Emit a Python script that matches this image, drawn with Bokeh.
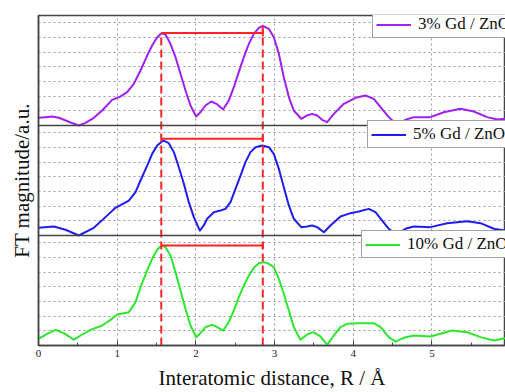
from bokeh.plotting import figure
from bokeh.models import Range1d, FixedTicker, SingleIntervalTicker, Legend, LegendItem, Span, Label
from bokeh.embed import file_html
from bokeh.resources import INLINE

# ---- data (R in Angstrom, FT magnitude in panel-normalised a.u.) ----
r_3 = [0.000, 0.089, 0.174, 0.258, 0.322, 0.407, 0.512, 0.597, 0.703, 0.809, 0.936, 1.042, 1.127, 1.211,
       1.296, 1.381, 1.444, 1.508, 1.563, 1.614, 1.677, 1.741, 1.804, 1.868, 1.931, 2.003, 2.058, 2.122,
       2.194, 2.262, 2.346, 2.418, 2.482, 2.545, 2.609, 2.673, 2.736, 2.800, 2.850, 2.927, 2.990,
       3.054, 3.117, 3.181, 3.244, 3.338, 3.414, 3.477, 3.541, 3.604, 3.668, 3.753, 3.880, 4.028, 4.155,
       4.261, 4.346, 4.451, 4.557, 4.663, 4.769, 4.981, 5.150, 5.362, 5.532, 5.701, 5.828, 5.934]
ft_3 = [0.070, 0.076, 0.082, 0.070, 0.052, 0.027, 0.000, 0.024, 0.070, 0.136, 0.233, 0.264, 0.303, 0.379,
        0.500, 0.636, 0.727, 0.803, 0.839, 0.827, 0.742, 0.621, 0.470, 0.318, 0.182, 0.082, 0.121, 0.182,
        0.218, 0.197, 0.145, 0.227, 0.348, 0.485, 0.621, 0.742, 0.833, 0.888, 0.906, 0.879, 0.803,
        0.652, 0.439, 0.258, 0.136, 0.061, 0.091, 0.106, 0.091, 0.052, 0.030, 0.106, 0.197, 0.252, 0.273,
        0.242, 0.167, 0.076, 0.006, 0.052, 0.076, 0.076, 0.121, 0.152, 0.127, 0.076, 0.055, 0.061]

r_5 = [0.000, 0.195, 0.343, 0.512, 0.703, 0.851, 0.978, 1.148, 1.233, 1.296, 1.381, 1.444, 1.508, 1.584,
       1.656, 1.720, 1.783, 1.847, 1.910, 1.974, 2.050, 2.101, 2.143, 2.228, 2.313, 2.376, 2.440, 2.503,
       2.567, 2.630, 2.694, 2.757, 2.842, 2.927, 2.990, 3.054, 3.117, 3.181, 3.244, 3.338, 3.414,
       3.477, 3.541, 3.626, 3.710, 3.837, 3.964, 4.070, 4.197, 4.282, 4.367, 4.451, 4.549, 4.663, 4.769,
       4.981, 5.193, 5.447, 5.616, 5.786, 5.934]
ft_5 = [0.070, 0.082, 0.052, 0.000, 0.070, 0.167, 0.252, 0.318, 0.394, 0.500, 0.636, 0.742, 0.818, 0.864,
        0.839, 0.758, 0.621, 0.470, 0.303, 0.167, 0.045, 0.091, 0.152, 0.212, 0.227, 0.242, 0.303, 0.424,
        0.545, 0.667, 0.758, 0.803, 0.818, 0.803, 0.742, 0.606, 0.439, 0.273, 0.152, 0.076, 0.082,
        0.091, 0.076, 0.030, 0.091, 0.173, 0.203, 0.218, 0.242, 0.212, 0.136, 0.061, 0.006, 0.061, 0.082,
        0.076, 0.112, 0.130, 0.112, 0.061, 0.045]

r_10 = [0.000, 0.110, 0.216, 0.322, 0.449, 0.555, 0.661, 0.809, 0.915, 1.000, 1.148, 1.233, 1.296, 1.381,
        1.444, 1.508, 1.563, 1.614, 1.677, 1.741, 1.804, 1.868, 1.931, 2.003, 2.058, 2.122, 2.207, 2.270,
        2.346, 2.418, 2.482, 2.545, 2.609, 2.673, 2.736, 2.800, 2.863, 2.927, 2.990, 3.054, 3.117,
        3.181, 3.244, 3.329, 3.414, 3.490, 3.583, 3.668, 3.753, 3.837, 3.922, 4.049, 4.261, 4.346, 4.451,
        4.536, 4.642, 4.769, 4.981, 5.256, 5.447, 5.616, 5.786, 5.934]
ft_10 = [0.061, 0.106, 0.142, 0.112, 0.052, 0.100, 0.142, 0.182, 0.233, 0.282, 0.303, 0.394, 0.530, 0.682,
         0.788, 0.870, 0.909, 0.894, 0.818, 0.667, 0.500, 0.333, 0.182, 0.076, 0.112, 0.167, 0.188, 0.167,
         0.136, 0.212, 0.318, 0.439, 0.545, 0.636, 0.706, 0.748, 0.758, 0.742, 0.712, 0.606, 0.470,
         0.318, 0.167, 0.052, 0.100, 0.121, 0.082, 0.006, 0.091, 0.167, 0.197, 0.203, 0.203, 0.167, 0.076,
         0.036, 0.070, 0.091, 0.082, 0.136, 0.121, 0.076, 0.045, 0.067]

series_labels = ["3% Gd / ZnO", "5% Gd / ZnO", "10% Gd / ZnO"]
series_colors = ["#A020F0", "#1E1EF0", "#2EE62E"]
panel_offsets = [2, 1, 0]

peak_positions = [1.56, 2.85]
first_peak_heights = [0.84, 0.88, 0.91]   # per panel (3%, 5%, 10%)
top_peak_heights = [0.84, 0.906]          # 3% panel, at the two marked positions

panel_grid_fracs = [k / 7.5 for k in range(1, 8)]

# ---- figure ----
p = figure(width=505, height=392, output_backend="svg", toolbar_location=None,
           x_range=Range1d(0, 5.934), y_range=Range1d(0, 3),
           min_border_left=38, min_border_right=0, min_border_top=15, min_border_bottom=47)
p.background_fill_color = "white"
p.outline_line_color = "#444444"
p.outline_line_width = 1.5

# grids
p.xgrid.ticker = FixedTicker(ticks=[1, 2, 3, 4, 5])
p.ygrid.ticker = FixedTicker(ticks=[o + f for o in panel_offsets for f in panel_grid_fracs])
for g in (p.xgrid, p.ygrid):
    g.grid_line_color = "#9a9a9a"
    g.grid_line_dash = "2 3"
    g.grid_line_width = 1

# x axis
xa = p.xaxis[0]
xa.ticker = SingleIntervalTicker(interval=1, num_minor_ticks=2)
xa.axis_label = "Interatomic distance, R / Å"
xa.axis_label_text_font = "Liberation Serif"
xa.axis_label_text_font_size = "21px"
xa.axis_label_text_font_style = "normal"
xa.axis_label_text_color = "#111111"
xa.axis_label_standoff = 6
xa.major_label_text_font = "Liberation Serif"
xa.major_label_text_font_size = "11px"
xa.major_label_text_color = "#222222"
xa.major_label_standoff = 4
xa.axis_line_color = "#444444"
xa.axis_line_width = 1.5
xa.major_tick_in = 5
xa.major_tick_out = 0
xa.minor_tick_in = 3
xa.minor_tick_out = 0
xa.major_tick_line_color = "#444444"
xa.minor_tick_line_color = "#444444"

# y axis
ya = p.yaxis[0]
ya.ticker = FixedTicker(ticks=[])
ya.axis_label = "FT magnitude/a.u."
ya.axis_label_text_font = "Liberation Serif"
ya.axis_label_text_font_size = "21px"
ya.axis_label_text_font_style = "normal"
ya.axis_label_text_color = "#111111"
ya.axis_label_standoff = 5
ya.axis_line_color = "#444444"
ya.axis_line_width = 1.5
ya.major_tick_in = 0
ya.major_tick_out = 0
ya.minor_tick_in = 0
ya.minor_tick_out = 0

# panel separators
for o in panel_offsets:
    if o > 0:
        p.add_layout(Span(location=o, dimension="width", line_color="#444444", line_width=1.5))

# curves
all_r = [r_3, r_5, r_10]
all_ft = [ft_3, ft_5, ft_10]
renderers = []
for r, ft, off, col in zip(all_r, all_ft, panel_offsets, series_colors):
    rr = p.line(r, [v + off for v in ft], line_color=col, line_width=2, line_join="round")
    renderers.append(rr)

# red markers
red = "#FF2424"
p.segment(x0=[peak_positions[0]] * 3, x1=[peak_positions[1]] * 3,
          y0=[h + o for h, o in zip(first_peak_heights, panel_offsets)],
          y1=[h + o for h, o in zip(first_peak_heights, panel_offsets)],
          line_color=red, line_width=2)
p.segment(x0=[peak_positions[1]] * 3, x1=[peak_positions[1]] * 3,
          y0=[h + o - 0.03 for h, o in zip(first_peak_heights, panel_offsets)],
          y1=[h + o + 0.03 for h, o in zip(first_peak_heights, panel_offsets)],
          line_color=red, line_width=2)
p.segment(x0=peak_positions, x1=peak_positions, y0=[0, 0],
          y1=[h + panel_offsets[0] for h in top_peak_heights],
          line_color=red, line_width=2, line_dash="8 4")

for pos in peak_positions:
    p.add_layout(Label(x=pos, y=-3, y_units="screen", text=f"{pos:.2f}",
                       text_align="center", text_baseline="top", text_color=red,
                       text_font="Liberation Serif", text_font_size="15px"))

# legends (one per panel)
legend_locs = [(334, 307), (329, 197), (323, 87)]
for rend, lab, loc in zip(renderers, series_labels, legend_locs):
    lg = Legend(items=[LegendItem(label=lab, renderers=[rend])], location=loc,
                label_text_font="Liberation Serif", label_text_font_size="17px",
                label_text_color="#111111",
                border_line_color="#444444", border_line_width=1,
                background_fill_color="white", background_fill_alpha=1,
                glyph_width=35, glyph_height=17, label_height=17, label_standoff=7,
                padding=3, spacing=0, margin=0)
    p.add_layout(lg, "center")

open("out.html", "w").write(file_html(p, INLINE))
